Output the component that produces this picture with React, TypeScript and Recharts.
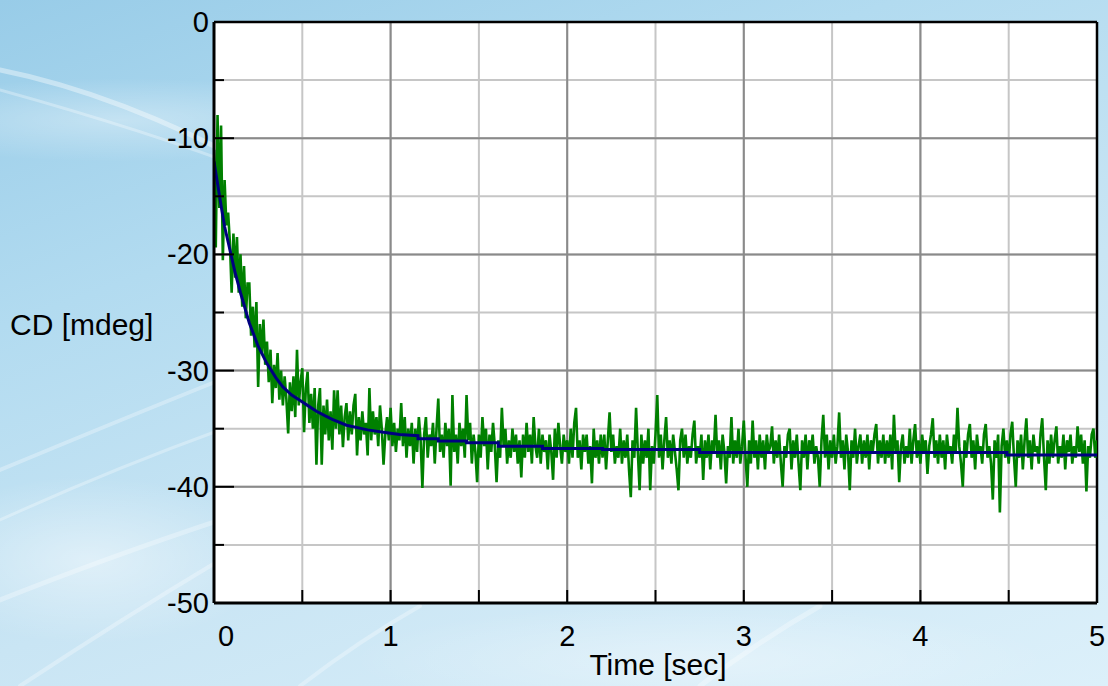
import { LineChart, Line, XAxis, YAxis, CartesianGrid, ReferenceLine } from "recharts";

const SAMPLE_STEP = 0.01;
const cdRaw = [
  -11.0, -19.4, -8.0, -16.0, -8.9, -20.5, -13.6, -17.5, -16.4, -19.0,
  -23.3, -18.2, -22.0, -18.5, -23.3, -20.0, -24.5, -21.0, -25.5, -22.5,
  -22.5, -27.0, -24.5, -28.0, -24.1, -31.4, -26.0, -28.5, -25.6, -29.5,
  -27.5, -31.0, -28.2, -32.8, -29.5, -31.5, -28.5, -32.5, -30.0, -33.0,
  -30.5, -32.5, -35.4, -31.0, -33.5, -30.5, -34.0, -28.2, -33.0, -31.0,
  -29.8, -35.3, -31.5, -30.1, -34.5, -32.0, -35.0, -31.5, -38.1, -33.0,
  -31.5, -38.1, -33.0, -35.5, -32.5, -36.0, -33.5, -36.8, -31.7, -35.0,
  -31.7, -35.5, -33.0, -36.6, -34.0, -32.8, -36.0, -33.5, -35.5, -33.0,
  -32.0, -37.3, -34.0, -36.0, -33.5, -35.5, -34.5, -37.3, -31.5, -36.0,
  -33.5, -35.5, -34.0, -36.5, -33.0, -35.0, -38.1, -35.5, -34.0, -36.0,
  -33.2, -36.5, -34.5, -37.0, -35.0, -36.0, -32.8, -36.5, -34.0, -37.5,
  -35.0, -36.5, -34.5, -38.0, -35.0, -37.0, -34.0, -36.0, -40.1, -35.5,
  -34.0, -37.5, -35.5, -36.5, -34.5, -38.0, -35.0, -32.4, -37.0, -35.5,
  -37.5, -34.5, -36.5, -35.0, -39.9, -32.1, -37.0, -35.5, -38.0, -34.5,
  -36.5, -35.0, -37.5, -32.1, -36.0, -34.5, -38.0, -35.5, -37.0, -39.6,
  -35.5, -37.5, -34.0, -36.5, -35.0, -38.5, -35.5, -37.0, -34.5, -36.5,
  -39.6, -36.0, -37.5, -33.2, -36.5, -35.0, -38.0, -36.0, -37.5, -35.0,
  -37.0, -35.5, -38.0, -36.0, -39.2, -35.5, -37.5, -34.5, -37.0, -35.5,
  -38.0, -34.0, -36.5, -37.5, -35.0, -38.0, -35.5, -37.0, -36.0, -38.5,
  -35.5, -37.0, -39.4, -35.0, -37.5, -34.5, -36.5, -38.0, -35.5, -37.0,
  -36.0, -38.0, -35.0, -37.5, -34.5, -33.2, -37.5, -36.0, -38.5, -35.5,
  -37.0, -35.5, -38.0, -36.5, -39.7, -35.0, -37.5, -36.0, -38.0, -35.5,
  -37.5, -35.5, -38.5, -36.0, -33.6, -37.0, -35.5, -38.0, -36.5, -37.5,
  -35.0, -38.0, -36.0, -37.5, -35.5, -38.5, -40.9, -36.0, -37.5, -33.2,
  -37.0, -40.3, -35.5, -38.0, -36.0, -37.5, -35.0, -40.3, -36.5, -38.0,
  -35.5, -32.1, -37.5, -35.5, -38.5, -36.0, -34.0, -37.5, -36.0, -38.0,
  -35.5, -37.0, -38.5, -40.3, -36.0, -35.0, -37.5, -35.5, -38.0, -36.5,
  -37.5, -35.5, -34.3, -38.0, -36.5, -37.5, -35.5, -39.4, -36.0, -37.5,
  -35.5, -38.5, -36.0, -37.0, -33.8, -37.5, -36.0, -38.5, -35.5, -37.0,
  -39.7, -36.5, -37.5, -34.0, -38.0, -36.0, -37.5, -35.0, -38.0, -36.5,
  -34.3, -37.5, -40.0, -36.0, -38.0, -34.3, -37.5, -36.0, -38.5, -35.5,
  -37.5, -36.0, -38.5, -35.5, -37.0, -36.5, -34.8, -38.0, -36.0, -37.5,
  -35.5, -38.0, -40.0, -36.5, -37.5, -35.5, -35.0, -38.5, -36.0, -37.5,
  -35.5, -38.0, -40.3, -36.0, -37.5, -35.5, -38.5, -36.0, -37.0, -35.5,
  -38.0, -36.5, -37.5, -40.0, -36.0, -33.8, -37.5, -35.5, -38.5, -36.0,
  -37.5, -35.5, -38.0, -36.5, -33.6, -37.5, -36.0, -38.5, -35.5, -37.0,
  -40.3, -36.0, -37.5, -35.0, -38.0, -36.5, -35.5, -38.0, -36.0, -37.5,
  -35.5, -38.5, -36.0, -37.0, -35.5, -34.6, -38.0, -36.0, -37.5, -35.5,
  -38.0, -36.0, -37.5, -35.5, -38.5, -33.8, -37.0, -36.0, -39.6, -36.5,
  -35.5, -38.0, -36.5, -37.5, -35.0, -38.0, -36.0, -34.6, -37.5, -36.0,
  -38.0, -35.5, -37.0, -36.0, -38.9, -36.5, -35.5, -34.1, -37.5, -36.0,
  -38.0, -35.5, -37.5, -36.0, -38.5, -35.5, -37.0, -36.5, -38.0, -35.5,
  -37.0, -33.2, -36.5, -38.0, -40.0, -36.0, -37.5, -35.5, -34.6, -37.5,
  -36.0, -38.5, -35.5, -37.0, -36.5, -38.0, -35.5, -34.6, -37.5, -36.5,
  -38.0, -41.1, -36.0, -37.5, -35.5, -42.2, -36.5, -35.0, -37.5, -36.0,
  -38.0, -35.5, -34.4, -37.5, -40.0, -36.0, -37.5, -35.5, -38.5, -36.0,
  -34.1, -37.5, -36.0, -38.5, -35.5, -37.0, -36.5, -38.0, -35.5, -34.1,
  -37.5, -40.3, -36.0, -38.0, -35.5, -37.5, -36.0, -34.8, -38.0, -36.5,
  -37.5, -35.5, -38.5, -36.0, -37.0, -35.5, -38.0, -36.5, -37.5, -34.8,
  -37.0, -35.5, -38.0, -36.0, -40.4, -36.5, -37.5, -35.5, -35.0, -37.5,
  -36.0,
];

// fitted decay curve (blue)
const fitTime = [
  0, 0.02, 0.04, 0.06, 0.09, 0.12, 0.15, 0.2, 0.25, 0.3, 0.35, 0.39, 0.44, 0.49,
  0.54, 0.58, 0.63, 0.67, 0.75, 0.87, 0.96, 1.05, 1.155, 1.155, 1.27, 1.27, 1.43,
  1.43, 1.61, 1.61, 1.86, 1.86, 2.2, 2.2, 2.75, 2.75, 4.49, 4.49, 5,
];
const fitValue = [
  -12, -13.9, -15.8, -17.6, -19.6, -21.6, -23.3, -25.9, -27.9, -29.4, -30.6, -31.4,
  -32.1, -32.6, -33.1, -33.5, -33.9, -34.2, -34.7, -35.1, -35.3, -35.5, -35.6, -35.86,
  -35.86, -36.06, -36.06, -36.2, -36.2, -36.5, -36.5, -36.7, -36.7, -36.8, -36.8,
  -37.05, -37.05, -37.27, -37.27,
];

const xTicks = [0, 0.5, 1, 1.5, 2, 2.5, 3, 3.5, 4, 4.5, 5];
const yTicks = [-50, -45, -40, -35, -30, -25, -20, -15, -10, -5, 0];
const xMajorGrid = [1, 2, 3, 4];
const yMajorGrid = [-40, -30, -20, -10];

const rawData = cdRaw.map((v, i) => ({ t: +(i * SAMPLE_STEP).toFixed(2), cd: v }));
const fitData = fitTime.map((t, i) => ({ t, fit: fitValue[i] }));

const FONT = "'Liberation Sans', Arial, sans-serif";

const YTick = (props: any) => {
  const { x, y, payload } = props;
  const v = payload.value as number;
  const major = v % 10 === 0;
  return (
    <g>
      <line x1={x} x2={x + (major ? 20 : 10)} y1={y} y2={y} stroke="#000" strokeWidth={2} />
      {major && (
        <text x={x - 5} y={y + 10} textAnchor="end" fontSize={29} fontFamily={FONT} fill="#000">
          {v}
        </text>
      )}
    </g>
  );
};

const XTick = (props: any) => {
  const { x, y, payload } = props;
  const v = payload.value as number;
  const major = Number.isInteger(v);
  return (
    <g>
      <line x1={x} x2={x} y1={y} y2={y - 13} stroke="#000" strokeWidth={2} />
      {major && (
        <text x={x + (v === 0 ? 12 : 0)} y={y + 43} textAnchor="middle" fontSize={29} fontFamily={FONT} fill="#000">
          {v}
        </text>
      )}
    </g>
  );
};

export default function App() {
  return (
    <div
      style={{
        position: "absolute",
        left: 0,
        top: 0,
        width: 1108,
        height: 686,
        overflow: "hidden",
        fontFamily: FONT,
        background:
          "radial-gradient(ellipse 380px 60px at 120px 120px, rgba(255,255,255,0.35), rgba(255,255,255,0) 70%)," +
          "radial-gradient(ellipse 260px 120px at 90px 560px, rgba(255,255,255,0.45), rgba(255,255,255,0) 70%)," +
          "radial-gradient(ellipse 500px 80px at 700px 660px, rgba(255,255,255,0.35), rgba(255,255,255,0) 70%)," +
          "linear-gradient(160deg, #98cce8 0%, #b2dbf0 30%, #c9e5f4 60%, #dcf0fa 100%)",
      }}
    >
      <svg width={1108} height={686} style={{ position: "absolute", left: 0, top: 0 }}>
        <g fill="none" stroke="#ffffff" strokeLinecap="round">
          <path d="M0 70 Q 150 100 330 210" strokeWidth={5} strokeOpacity={0.4} />
          <path d="M0 90 Q 180 140 300 190" strokeWidth={3} strokeOpacity={0.3} />
          <path d="M0 470 Q 120 420 220 380" strokeWidth={4} strokeOpacity={0.3} />
          <path d="M0 520 Q 110 470 220 430" strokeWidth={3} strokeOpacity={0.3} />
          <path d="M0 600 Q 100 560 220 520" strokeWidth={5} strokeOpacity={0.3} />
          <path d="M20 686 Q 120 620 220 560" strokeWidth={4} strokeOpacity={0.3} />
          <path d="M300 686 Q 360 640 420 606" strokeWidth={4} strokeOpacity={0.3} />
          <path d="M700 686 Q 760 640 820 606" strokeWidth={5} strokeOpacity={0.3} />
        </g>
      </svg>
      <div style={{ position: "absolute", left: 0, top: 0 }}>
        <LineChart width={1108} height={686} margin={{ top: 22, right: 11, bottom: 0, left: 0 }}>
          <CartesianGrid fill="#ffffff" fillOpacity={1} stroke="#c6c6c6" strokeWidth={2} />
          {xMajorGrid.map((v) => (
            <ReferenceLine key={"x" + v} x={v} stroke="#8a8a8a" strokeWidth={2} zIndex={-50} />
          ))}
          {yMajorGrid.map((v) => (
            <ReferenceLine key={"y" + v} y={v} stroke="#8a8a8a" strokeWidth={2} zIndex={-50} />
          ))}
          <ReferenceLine y={0} stroke="#000" strokeWidth={2.5} zIndex={-50} />
          <ReferenceLine x={5} stroke="#000" strokeWidth={2.5} zIndex={-50} />
          <XAxis
            dataKey="t"
            type="number"
            domain={[0, 5]}
            ticks={xTicks}
            allowDataOverflow
            height={83}
            tickSize={0}
            tickMargin={0}
            tickLine={false}
            axisLine={{ stroke: "#000", strokeWidth: 3 }}
            tick={<XTick />}
            interval={0}
          />
          <YAxis
            type="number"
            domain={[-50, 0]}
            ticks={yTicks}
            allowDataOverflow
            width={214}
            tickSize={0}
            tickMargin={0}
            tickLine={false}
            axisLine={{ stroke: "#000", strokeWidth: 3 }}
            tick={<YTick />}
            interval={0}
          />
          <Line
            data={rawData}
            dataKey="cd"
            type="linear"
            stroke="#008000"
            strokeWidth={2.6}
            dot={false}
            isAnimationActive={false}
          />
          <Line
            data={fitData}
            dataKey="fit"
            type="linear"
            stroke="#000080"
            strokeWidth={3}
            dot={false}
            isAnimationActive={false}
          />
        </LineChart>
      </div>
      <div style={{ position: "absolute", left: 10, top: 308, fontSize: 30, color: "#000", whiteSpace: "nowrap" }}>
        CD [mdeg]
      </div>
      <div
        style={{
          position: "absolute",
          left: 558,
          width: 200,
          top: 648,
          textAlign: "center",
          fontSize: 30,
          color: "#000",
          whiteSpace: "nowrap",
        }}
      >
        Time [sec]
      </div>
    </div>
  );
}
